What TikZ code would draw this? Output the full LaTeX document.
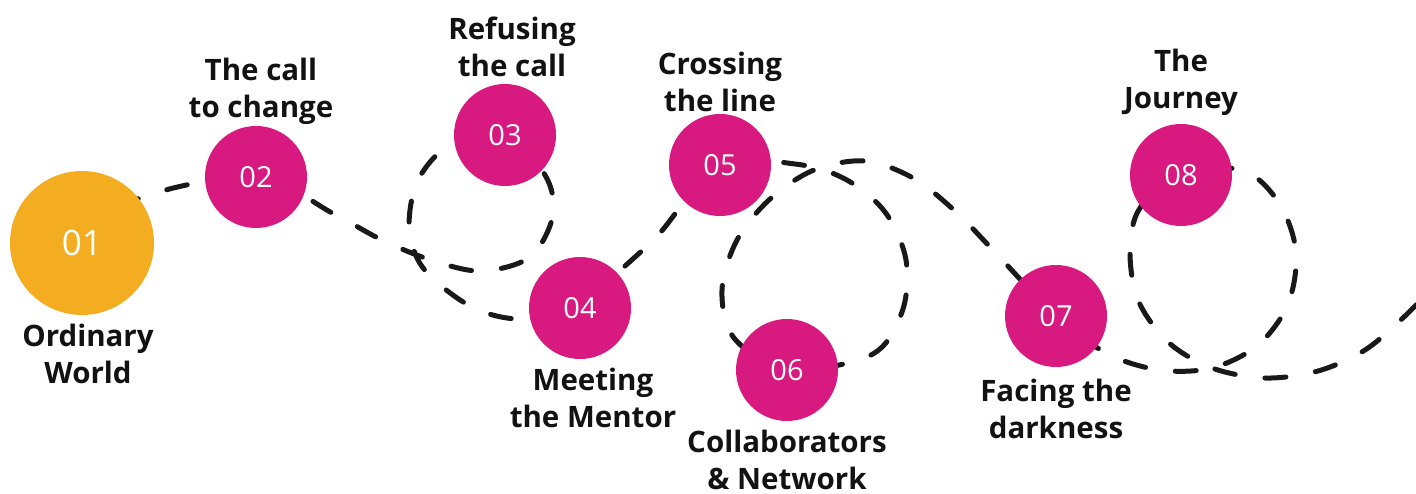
\documentclass[tikz,border=0pt]{standalone}
\usepackage{fontspec}
\setmainfont{Open Sans}
\begin{document}
\begin{tikzpicture}[x=1pt,y=-1pt,
  stage/.style={circle,fill=magentaStage,minimum size=102pt,inner sep=0pt,
    text=white,font=\fontsize{29}{30}\selectfont},
  startstage/.style={stage,fill=orangeStage,minimum size=144pt,
    font=\fontsize{35}{36}\selectfont},
  caption/.style={align=center,text=black!93,inner sep=0pt,
    font=\bfseries\fontsize{29.5}{37}\selectfont},
  trail/.style={line width=5pt,line cap=round,dash pattern=on 21pt off 30pt,
    black!90}]
\definecolor{magentaStage}{HTML}{D8197F}
\definecolor{orangeStage}{HTML}{F4AD20}
\useasboundingbox (0,0) rectangle (1416,494);
\clip (0,0) rectangle (1416,494);

% stage positions
\coordinate (c01) at (82,243);
\coordinate (c02) at (256,177);
\coordinate (c03) at (505,135);
\coordinate (c04) at (580,308);
\coordinate (c05) at (720,165);
\coordinate (c06) at (787,370);
\coordinate (c07) at (1056,316);
\coordinate (c08) at (1181,175);
\coordinate (trailEnd) at (1435,285);

% the winding trail, with its three loops
\draw[trail] plot[smooth,tension=0.55] coordinates {
  (c01) (140,198) (c02) (334,214) (380,239) (428,259) (480,271) (530,257)
  (553,215) (545,175) (c03) (450,145) (418,180) (409,225) (418,260)
  (440,285) (478,310) (522,319) (c04) (624,267) (659,234) (c05)
  (795,164) (845,179) (885,212) (906,260) (902,312) (871,355) (c06)
  (734,338) (722,290) (737,240) (770,199) (814,170) (865,161) (913,178)
  (955,211) (992,249) (c07) (1108,354) (1160,370) (1212,368) (1258,345)
  (1288,304) (1296,252) (1279,203) (1242,170) (c08) (1140,208) (1130,250)
  (1138,300) (1168,342) (1212,368) (1265,378) (1318,371) (1365,350)
  (1405,316) (trailEnd)};

% stage discs
\node[startstage] (n01) at (c01) {01};
\node[stage] (n02) at (c02) {02};
\node[stage] (n03) at (c03) {03};
\node[stage] (n04) at (c04) {04};
\node[stage] (n05) at (c05) {05};
\node[stage] (n06) at (c06) {06};
\node[stage] (n07) at (c07) {07};
\node[stage] (n08) at (c08) {08};

% stage captions
\node[caption] (t01) at (88,354) {Ordinary\\World};
\node[caption] (t02) at (261,91) {The call\\to change};
\node[caption] (t03) at (512,47) {Refusing\\the call};
\node[caption] (t05) at (720,82) {Crossing\\the line};
\node[caption] (t04) at (593,398) {Meeting\\the Mentor};
\node[caption] (t06) at (787,460) {Collaborators\\\& Network};
\node[caption] (t07) at (1056,409) {Facing the\\darkness};
\node[caption] (t08) at (1181,82) {The\\Journey};
\end{tikzpicture}
\end{document}
